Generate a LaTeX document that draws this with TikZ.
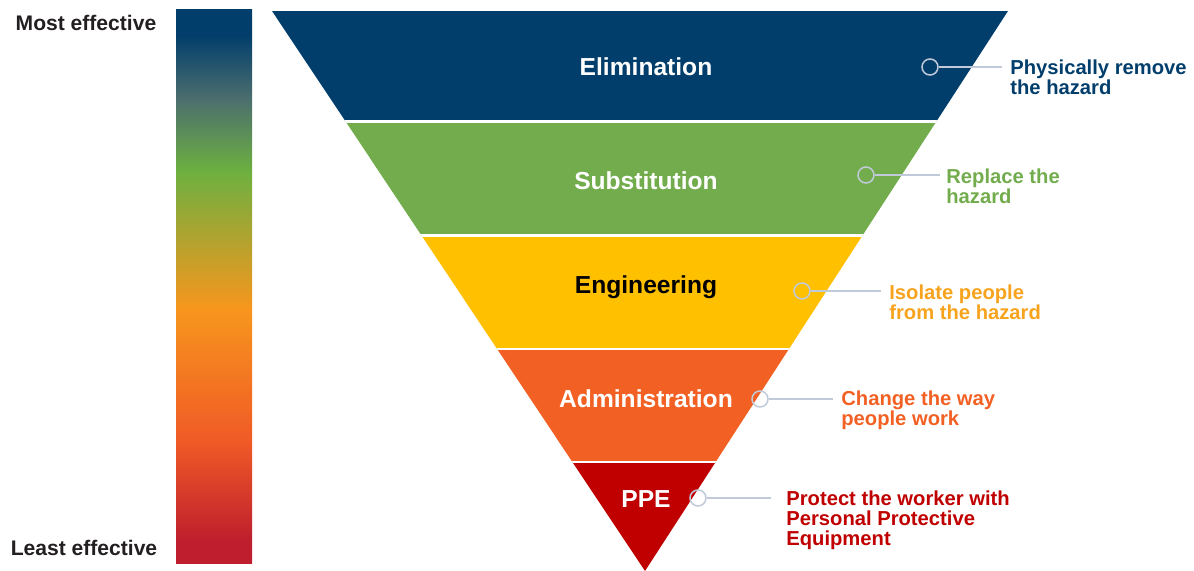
\documentclass[tikz,border=0pt]{standalone}
\usepackage{fontspec}
\setmainfont{Liberation Sans}
\usepackage{tikz}

\definecolor{hnavy}{RGB}{2,62,107}
\definecolor{hteal}{RGB}{75,110,110}
\definecolor{hgreen}{RGB}{114,172,77}
\definecolor{hbargreen}{RGB}{109,176,64}
\definecolor{hyellow}{RGB}{255,192,0}
\definecolor{hamber}{RGB}{247,150,29}
\definecolor{hlabel}{RGB}{247,163,30}
\definecolor{horange}{RGB}{242,96,36}
\definecolor{hbarorange}{RGB}{240,90,38}
\definecolor{hred}{RGB}{192,0,0}
\definecolor{hbarred}{RGB}{190,30,45}
\definecolor{hdark}{RGB}{35,31,32}
\definecolor{leader}{RGB}{192,202,216}

\pgfdeclareverticalshading{effectbar}{100bp}{color(0bp)=(hbarred); color(25bp)=(hbarred);
  color(27bp)=(hbarred); color(36bp)=(hbarorange); color(48bp)=(hamber);
  color(60.4bp)=(hbargreen); color(67bp)=(hteal); color(72.7bp)=(hnavy);
  color(75bp)=(hnavy); color(100bp)=(hnavy)}

\begin{document}
\begin{tikzpicture}[x=0.02cm,y=-0.02cm,
  band/.style={font=\bfseries\fontsize{14}{16}\selectfont,text=white},
  pin/.style={circle,draw=leader,line width=0.03cm,minimum size=0.32cm,inner sep=0pt},
  lead/.style={draw=leader,line width=0.03cm},
  note/.style={anchor=west,align=left,inner sep=0pt,font=\bfseries\fontsize{11.5}{11.4}\selectfont},
  side/.style={font=\bfseries\fontsize{12}{14}\selectfont,text=hdark}]
        \useasboundingbox (0,0) rectangle (1194,571);

        \node[side] (most) at (86,23) {Most effective};
        \node[side] (least) at (84,548) {Least effective};
        \shade[shading=effectbar] (176,10) rectangle (252,563);

        \begin{scope}
            \clip (272,11) -- (1008,11) -- (645,571) -- cycle;
            \fill[hnavy] (250,11) rectangle (1030,121.5);
            \fill[hgreen] (250,121.5) rectangle (1030,235.5);
            \fill[hyellow] (250,235.5) rectangle (1030,349);
            \fill[horange] (250,349) rectangle (1030,462);
            \fill[hred] (250,462) rectangle (1030,571);
            \draw[white,line width=0.05cm] (250,121.5) -- (1030,121.5);
            \draw[white,line width=0.05cm] (250,235.5) -- (1030,235.5);
            \draw[white,line width=0.05cm] (250,349) -- (1030,349);
            \draw[white,line width=0.05cm] (250,462) -- (1030,462);
        \end{scope}

        \node[band] (elim) at (646,67) {Elimination};
        \node[band] (subst) at (646,181) {Substitution};
        \node[band,text=black] (eng) at (646,287) {Engineering};
        \node[band] (admin) at (646,399) {Administration};
        \node[band] (ppe) at (646,499) {PPE};

        \node[pin] (p1) at (930,67) {};
        \node[pin] (p2) at (866,175) {};
        \node[pin] (p3) at (802,291) {};
        \node[pin] (p4) at (760,399) {};
        \node[pin] (p5) at (698,498) {};

        \coordinate (e1) at (1002,67);
        \coordinate (e2) at (940,175);
        \coordinate (e3) at (881,291);
        \coordinate (e4) at (833,399);
        \coordinate (e5) at (771,498);
        \draw[lead] (p1) -- (e1);
        \draw[lead] (p2) -- (e2);
        \draw[lead] (p3) -- (e3);
        \draw[lead] (p4) -- (e4);
        \draw[lead] (p5) -- (e5);

        \node[note,text=hnavy] (t1) at (1010,77) {Physically remove\\the hazard};
        \node[note,text=hgreen] (t2) at (946,186.5) {Replace the\\hazard};
        \node[note,text=hlabel] (t3) at (889,302.5) {Isolate people\\from the hazard};
        \node[note,text=horange] (t4) at (841,410) {Change the way\\people work};
        \node[note,text=hred] (t5) at (786,520) {Protect the worker with\\Personal Protective\\Equipment};
    \end{tikzpicture}
\end{document}
